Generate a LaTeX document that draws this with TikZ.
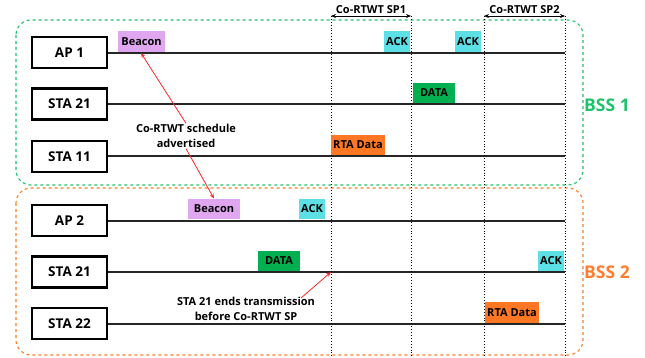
\documentclass[tikz,border=0pt]{standalone}
\usepackage{fontspec}
\setmainfont{Open Sans}
\usetikzlibrary{arrows.meta}
\definecolor{bssgreen}{RGB}{30,195,105}
\definecolor{bssorange}{RGB}{255,125,45}
\definecolor{beaconc}{RGB}{224,166,240}
\definecolor{ackc}{RGB}{92,224,230}
\definecolor{datac}{RGB}{0,176,80}
\definecolor{rtac}{RGB}{255,119,34}
\tikzset{
  stabox/.style={draw=black, line width=2.2pt, fill=white, minimum width=75pt, minimum height=31pt, inner sep=0pt, font=\bfseries\fontsize{13.5}{15}\selectfont},
  pkt/.style={inner sep=0pt, minimum height=20.5pt, font=\bfseries\fontsize{11}{12}\selectfont},
  tline/.style={line width=1.8pt, black!85},
  vdot/.style={dotted, line width=0.9pt},
  note/.style={align=center, font=\bfseries\fontsize{11}{14.5}\selectfont, inner sep=1pt},
  redarrow/.style={red!85!white, line width=0.8pt, -{Stealth[length=5pt,width=4pt]}},
  sparrow/.style={line width=0.8pt, {Stealth[length=5pt,width=4pt]}-{Stealth[length=5pt,width=4pt]}},
  bssbox/.style={dashed, line width=1.1pt, rounded corners=15pt},
  splabel/.style={above=0pt, font=\bfseries\fontsize{11}{12}\selectfont, inner sep=1.5pt}
}
\begin{document}
\begin{tikzpicture}[x=1pt,y=-1pt]
\useasboundingbox (0,0) rectangle (645,358);
% BSS boxes
\draw[bssbox, bssgreen] (16,20) rectangle (583,185);
\draw[bssbox, bssorange] (16,188) rectangle (583,355);
\node[text=bssgreen, font=\bfseries\fontsize{17.5}{20}\selectfont] (bss1) at (607,105) {BSS 1};
\node[text=bssorange, font=\bfseries\fontsize{17.5}{20}\selectfont] (bss2) at (607,272) {BSS 2};
% station boxes
\node[stabox] (ap1) at (69.5,52.5) {AP 1};
\node[stabox] (sta21a) at (69.5,104) {STA 21};
\node[stabox] (sta11) at (69.5,156.5) {STA 11};
\node[stabox] (ap2) at (69.5,220.5) {AP 2};
\node[stabox] (sta21b) at (69.5,272) {STA 21};
\node[stabox] (sta22) at (69.5,323.5) {STA 22};
% timeline ends
\coordinate (e1) at (565,53);
\coordinate (e2) at (565,104);
\coordinate (e3) at (565,156);
\coordinate (e4) at (565,221);
\coordinate (e5) at (565,272);
\coordinate (e6) at (565,324);
\draw[tline] (ap1.east |- e1) -- (e1);
\draw[tline] (sta21a.east |- e2) -- (e2);
\draw[tline] (sta11.east |- e3) -- (e3);
\draw[tline] (ap2.east |- e4) -- (e4);
\draw[tline] (sta21b.east |- e5) -- (e5);
\draw[tline] (sta22.east |- e6) -- (e6);
% vertical dotted lines
\coordinate (v1t) at (331,16); \coordinate (v1b) at (331,356);
\coordinate (v2t) at (411,16); \coordinate (v2b) at (411,356);
\coordinate (v3t) at (484,16); \coordinate (v3b) at (484,356);
\coordinate (v4t) at (565,16); \coordinate (v4b) at (565,356);
\draw[vdot] (v1t) -- (v1b);
\draw[vdot] (v2t) -- (v2b);
\draw[vdot] (v3t) -- (v3b);
\draw[vdot] (v4t) -- (v4b);
\draw[sparrow] (v1t) -- node[splabel] (sp1) {Co-RTWT SP1} (v2t);
\draw[sparrow] (v3t) -- node[splabel] (sp2) {Co-RTWT SP2} (v4t);
% packets
\node[pkt, fill=beaconc, minimum width=47pt] (bcn1) at (141.5,41.5) {Beacon};
\node[pkt, fill=ackc, minimum width=26pt] (ack1a) at (397,41.5) {ACK};
\node[pkt, fill=ackc, minimum width=26pt] (ack1b) at (468,41.5) {ACK};
\node[pkt, fill=datac, minimum width=42pt] (data1) at (434,93) {DATA};
\node[pkt, fill=rtac, minimum width=54pt] (rta1) at (358,145) {RTA Data};
\node[pkt, fill=beaconc, minimum width=52pt] (bcn2) at (214,209) {Beacon};
\node[pkt, fill=ackc, minimum width=26pt] (ack2a) at (312,209) {ACK};
\node[pkt, fill=datac, minimum width=42pt] (data2) at (279,261) {DATA};
\node[pkt, fill=ackc, minimum width=26pt] (ack2b) at (551,261) {ACK};
\node[pkt, fill=rtac, minimum width=54pt] (rta2) at (512,312.5) {RTA Data};
% annotations
\node[note] (n1) at (186,136) {Co-RTWT schedule\\advertised};
\node[note] (n2) at (246,309) {STA 21 ends transmission\\before Co-RTWT SP};
\coordinate (t1) at (141,53);
\coordinate (t3) at (331,272);
\coordinate (s3) at (301,298);
\draw[redarrow] (n1.north) -- (t1);
\draw[redarrow] (n1.south) -- (bcn2.north);
\draw[redarrow] (s3) -- (t3);
\end{tikzpicture}
\end{document}
